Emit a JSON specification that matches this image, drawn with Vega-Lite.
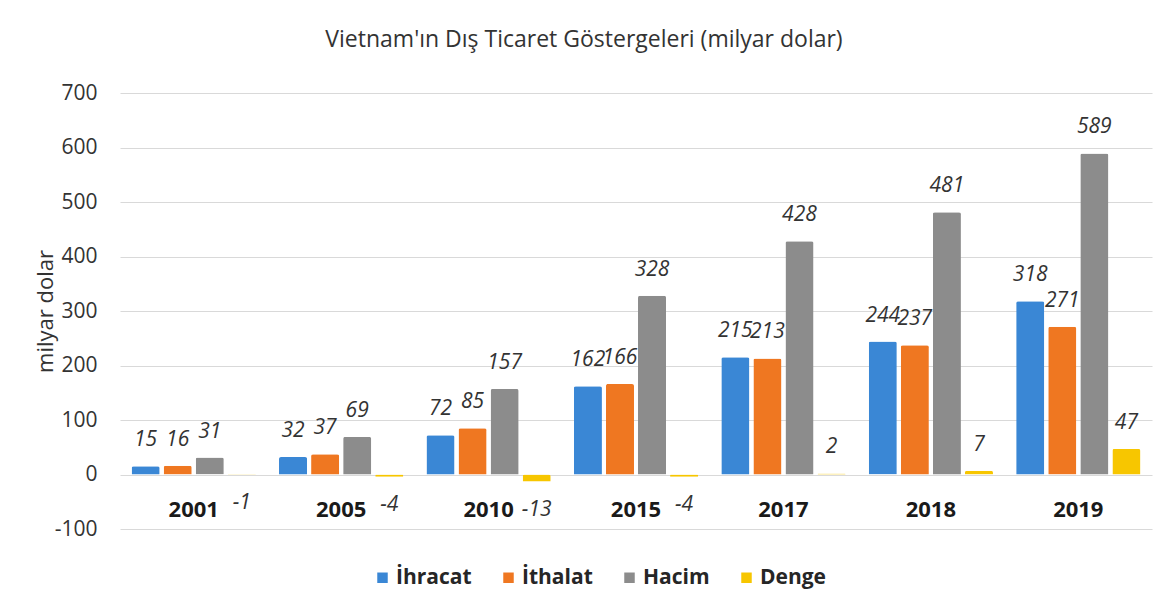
{
  "$schema": "https://vega.github.io/schema/vega-lite/v6.json",
  "width": 1032,
  "height": 436,
  "autosize": {"type": "none"},
  "padding": {"left": 120, "top": 93, "right": 12, "bottom": 81},
  "background": "white",
  "config": {
    "font": "Open Sans",
    "view": {"stroke": null}
  },
  "title": {
    "text": "Vietnam'ın Dış Ticaret Göstergeleri (milyar dolar)",
    "font": "Open Sans",
    "fontSize": 23,
    "fontWeight": "normal",
    "color": "#333333",
    "anchor": "middle",
    "dx": -52,
    "offset": 30
  },
  "data": {
    "values": [
      {"year": "2001", "series": "İhracat", "value": 15},
      {"year": "2001", "series": "İthalat", "value": 16},
      {"year": "2001", "series": "Hacim", "value": 31},
      {"year": "2001", "series": "Denge", "value": -1},
      {"year": "2005", "series": "İhracat", "value": 32},
      {"year": "2005", "series": "İthalat", "value": 37},
      {"year": "2005", "series": "Hacim", "value": 69},
      {"year": "2005", "series": "Denge", "value": -4},
      {"year": "2010", "series": "İhracat", "value": 72},
      {"year": "2010", "series": "İthalat", "value": 85},
      {"year": "2010", "series": "Hacim", "value": 157},
      {"year": "2010", "series": "Denge", "value": -13},
      {"year": "2015", "series": "İhracat", "value": 162},
      {"year": "2015", "series": "İthalat", "value": 166},
      {"year": "2015", "series": "Hacim", "value": 328},
      {"year": "2015", "series": "Denge", "value": -4},
      {"year": "2017", "series": "İhracat", "value": 215},
      {"year": "2017", "series": "İthalat", "value": 213},
      {"year": "2017", "series": "Hacim", "value": 428},
      {"year": "2017", "series": "Denge", "value": 2},
      {"year": "2018", "series": "İhracat", "value": 244},
      {"year": "2018", "series": "İthalat", "value": 237},
      {"year": "2018", "series": "Hacim", "value": 481},
      {"year": "2018", "series": "Denge", "value": 7},
      {"year": "2019", "series": "İhracat", "value": 318},
      {"year": "2019", "series": "İthalat", "value": 271},
      {"year": "2019", "series": "Hacim", "value": 589},
      {"year": "2019", "series": "Denge", "value": 47}
    ]
  },
  "encoding": {
    "x": {
      "field": "year",
      "type": "nominal",
      "sort": ["2001", "2005", "2010", "2015", "2017", "2018", "2019"],
      "scale": {"paddingInner": 0.13, "paddingOuter": 0.065},
      "axis": null
    }
  },
  "layer": [
    {
      "mark": {"type": "bar", "cornerRadiusTopLeft": 2, "cornerRadiusTopRight": 2},
      "encoding": {
        "xOffset": {
          "field": "series",
          "type": "nominal",
          "sort": ["İhracat", "İthalat", "Hacim", "Denge"],
          "scale": {"paddingInner": 0.125, "paddingOuter": 0.0625}
        },
        "y": {
          "field": "value",
          "type": "quantitative",
          "scale": {"domain": [-100, 700], "nice": false},
          "axis": {
            "values": [-100, 0, 100, 200, 300, 400, 500, 600, 700],
            "labelExpr": "datum.value + ''",
            "title": "milyar dolar",
            "titleFont": "Open Sans",
            "titleFontSize": 22,
            "titleFontWeight": "normal",
            "titleColor": "#333333",
            "titleAngle": -90,
            "titleX": -75,
            "titleY": 218,
            "titleAlign": "center",
            "titleBaseline": "middle",
            "labelFont": "Open Sans",
            "labelFontSize": 21,
            "labelColor": "#333333",
            "labelPadding": 23,
            "ticks": false,
            "domain": false,
            "grid": true,
            "gridColor": "#d9d9d9",
            "gridWidth": 1.2
          }
        },
        "color": {
          "field": "series",
          "type": "nominal",
          "sort": ["İhracat", "İthalat", "Hacim", "Denge"],
          "scale": {
            "domain": ["İhracat", "İthalat", "Hacim", "Denge"],
            "range": ["#3A87D5", "#EF7721", "#8C8C8C", "#F7C600"]
          },
          "legend": {
            "title": null,
            "orient": "none",
            "direction": "horizontal",
            "legendX": 252,
            "legendY": 474,
            "symbolType": "square",
            "symbolSize": 110,
            "symbolStrokeWidth": 0,
            "labelFont": "Open Sans",
            "labelFontSize": 21,
            "labelFontWeight": "bold",
            "labelColor": "#262626",
            "labelOffset": 3,
            "columnPadding": 26
          }
        }
      }
    },
    {
      "transform": [{"filter": "datum.value >= 0"}],
      "mark": {
        "type": "text",
        "font": "Open Sans",
        "fontSize": 21,
        "fontStyle": "italic",
        "color": "#333333",
        "baseline": "middle",
        "dy": -26
      },
      "encoding": {
        "xOffset": {
          "field": "series",
          "type": "nominal",
          "sort": ["İhracat", "İthalat", "Hacim", "Denge"]
        },
        "y": {"field": "value", "type": "quantitative"},
        "text": {"field": "value", "type": "nominal"}
      }
    },
    {
      "transform": [{"filter": "datum.value < 0"}],
      "mark": {
        "type": "text",
        "font": "Open Sans",
        "fontSize": 21,
        "fontStyle": "italic",
        "color": "#333333",
        "baseline": "middle",
        "dy": 28
      },
      "encoding": {
        "xOffset": {
          "field": "series",
          "type": "nominal",
          "sort": ["İhracat", "İthalat", "Hacim", "Denge"]
        },
        "y": {"field": "value", "type": "quantitative"},
        "text": {"field": "value", "type": "nominal"}
      }
    },
    {
      "transform": [{"filter": "datum.series === 'İhracat'"}],
      "mark": {
        "type": "text",
        "font": "Open Sans",
        "fontSize": 22,
        "fontWeight": "bold",
        "color": "#1a1a1a",
        "baseline": "middle",
        "dy": 35
      },
      "encoding": {
        "y": {"datum": 0, "type": "quantitative"},
        "text": {"field": "year", "type": "nominal"}
      }
    }
  ]
}
